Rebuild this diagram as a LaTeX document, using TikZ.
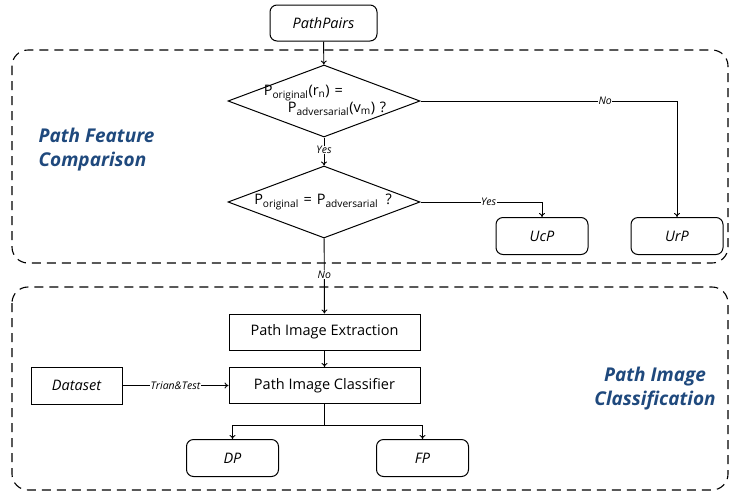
\documentclass[tikz,border=0pt]{standalone}
\usepackage{fontspec}
\setmainfont{Open Sans}
\usetikzlibrary{shapes.geometric,arrows.meta}
\definecolor{titleblue}{RGB}{31,73,125}
\begin{document}
\begin{tikzpicture}[x=1pt,y=-1pt,
  every node/.style={font=\fontsize{14.5}{17}\selectfont},
  rbox/.style={draw,line width=1pt,rounded corners=7pt,minimum width=92pt,minimum height=37pt,inner sep=0pt,font=\fontsize{14.5}{17}\selectfont\itshape},
  sbox/.style={draw,line width=1pt,minimum width=191pt,minimum height=36pt,inner sep=0pt},
  dbox/.style={draw,line width=1pt,minimum width=91pt,minimum height=37pt,inner sep=0pt,font=\fontsize{14.5}{17}\selectfont\itshape},
  dia/.style={draw,line width=1pt,diamond,minimum width=192pt,minimum height=72pt,inner sep=0pt},
  region/.style={draw,line width=1.1pt,dash pattern=on 9pt off 6pt,rounded corners=16pt},
  conn/.style={line width=0.9pt},
  arr/.style={conn,-{To[length=4pt,width=6pt]}},
  lab/.style={font=\fontsize{10.5}{12}\selectfont\itshape,fill=white,inner sep=0.5pt},
  title/.style={font=\fontsize{19}{24}\selectfont\bfseries\itshape,text=titleblue,align=left}
]
\useasboundingbox (0,0) rectangle (730,493);
\draw[region] (12,50) rectangle (728,263);
\draw[region] (12,287) rectangle (728,490);

\node[rbox,minimum width=107pt,minimum height=36pt] (pp) at (323.5,23) {PathPairs};
\node[dia] (d1) at (324,101) {};
\node[align=left] (d1t) at (325,100) {P\textsubscript{original}(r\textsubscript{n})\,\,=\\\hspace{24pt}P\textsubscript{adversarial}(v\textsubscript{m})\,\,?};
\node[dia] (d2) at (324,202) {};
\node (d2t) at (323,202) {P\textsubscript{original}\,\,=\,\,P\textsubscript{adversarial}\,\,\,?};
\node[rbox] (ucp) at (542,236) {UcP};
\node[rbox] (urp) at (677,236) {UrP};

\node[title,anchor=west] (t1) at (35,150) {Path Feature\\Comparison};
\node[title,align=center] (t2) at (655,389) {Path Image\\Classification};

\node[sbox] (pie) at (324.5,332) {Path Image Extraction};
\node[sbox] (pic) at (324.5,385.5) {Path Image Classifier};
\node[dbox] (ds) at (76.5,385.5) {Dataset};
\node[rbox] (dp) at (232.5,458) {DP};
\node[rbox] (fp) at (422.5,458) {FP};

\coordinate (split) at (324.5,425);

\draw[arr] (pp) -- (d1);
\draw[arr] (d1) -- node[lab,pos=0.45]{Yes} (d2);
\draw[arr] (d1.east) -| node[lab,pos=0.36]{No} (urp.north);
\draw[arr] (d2.east) -| node[lab,pos=0.28]{Yes} (ucp.north);
\draw[arr] (d2) -- node[lab,pos=0.48]{No} (pie);
\draw[arr] (pie) -- (pic);
\draw[arr] (ds) -- node[lab,pos=0.5]{Trian\&Test} (pic);
\draw[conn] (pic) -- (split);
\draw[arr] (split) -| (dp.north);
\draw[arr] (split) -| (fp.north);
\end{tikzpicture}
\end{document}
